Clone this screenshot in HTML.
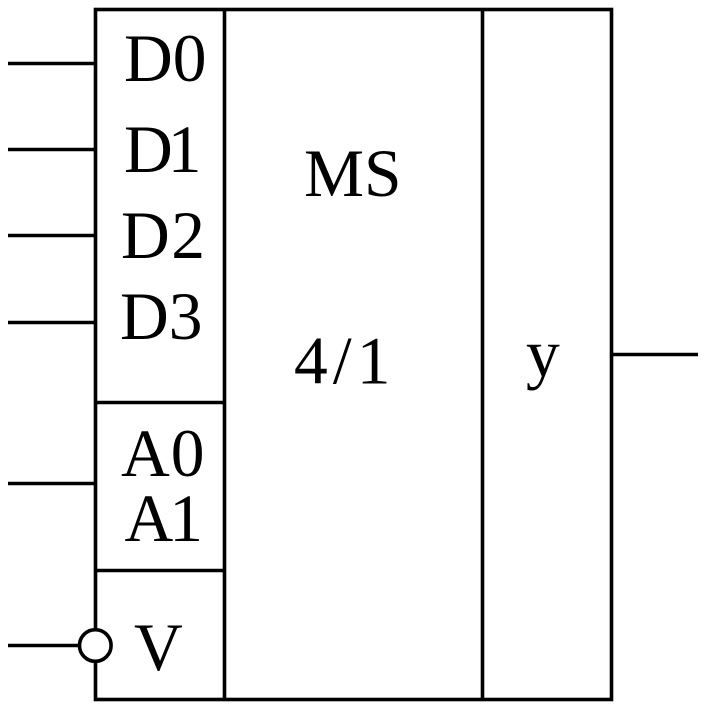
<!DOCTYPE html>
<html>
<head>
<meta charset="utf-8">
<style>
html,body{margin:0;padding:0;background:#fff;width:706px;height:708px;overflow:hidden}
svg{display:block}
text{font-family:"Liberation Serif",serif;font-size:67.5px;fill:#000}
</style>
</head>
<body>
<svg width="706" height="708" viewBox="0 0 706 708" xmlns="http://www.w3.org/2000/svg">
<rect width="706" height="708" fill="#fff"/>
<g stroke="#000" stroke-width="3.6" fill="none">
<rect x="95.5" y="9.5" width="516" height="690"/>
<line x1="224.5" y1="9" x2="224.5" y2="700"/>
<line x1="482.5" y1="9" x2="482.5" y2="700"/>
<line x1="95" y1="402.5" x2="224" y2="402.5"/>
<line x1="95" y1="570.5" x2="224" y2="570.5"/>
<line x1="8" y1="63.5" x2="95" y2="63.5"/>
<line x1="8" y1="149.5" x2="95" y2="149.5"/>
<line x1="8" y1="235.5" x2="95" y2="235.5"/>
<line x1="8" y1="322.5" x2="95" y2="322.5"/>
<line x1="8" y1="483.5" x2="95" y2="483.5"/>
<line x1="8" y1="645.5" x2="80" y2="645.5"/>
<line x1="612" y1="354.5" x2="698" y2="354.5"/>
<circle cx="95.3" cy="645.5" r="15.8" fill="#fff"/>
</g>
<text x="124" y="81">D0</text>
<text x="124" y="172">D<tspan dx="-5">1</tspan></text>
<text x="121" y="258">D<tspan dx="1.5">2</tspan></text>
<text x="120" y="339">D3</text>
<text x="304" y="196">MS</text>
<text x="294" y="383.5" textLength="96.5" lengthAdjust="spacing">4/1</text>
<text x="526" y="376">y</text>
<text x="121" y="476">A<tspan dx="1">0</tspan></text>
<text x="124.5" y="541">A<tspan dx="-4">1</tspan></text>
<text x="134" y="670">V</text>
</svg>
</body>
</html>
